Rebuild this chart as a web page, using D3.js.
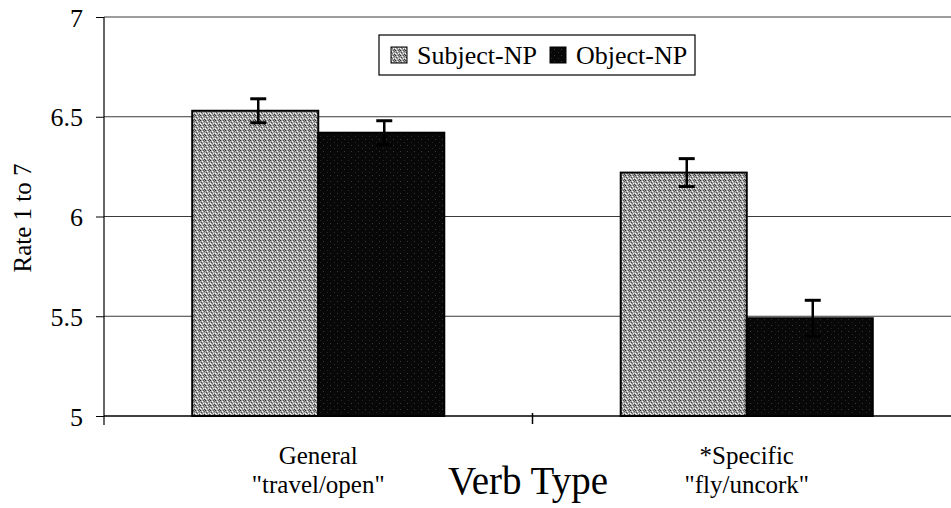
<!DOCTYPE html>
<html>
<head>
<meta charset="utf-8">
<script src="https://cdn.jsdelivr.net/npm/d3@7"></script>
<style>
  body { margin: 0; background: #fff; }
  svg text { font-family: "Liberation Serif", "Times New Roman", serif; fill: #000; }
</style>
</head>
<body>
<div id="chart"></div>
<script>
// data
var categories = ['General|"travel/open"', '*Specific|"fly/uncork"'];
var series = ["Subject-NP", "Object-NP"];
var subjectVals = [6.53, 6.22];
var objectVals = [6.42, 5.49];
var subjectErr = [0.06, 0.07];
var objectErr = [0.06, 0.09];
var yTicks = [5, 5.5, 6, 6.5, 7];

var W = 951, H = 508;
var plotLeft = 104, plotTop = 17, plotBottom = 416;
var SERIF = "'Liberation Serif', 'Times New Roman', serif";

var svg = d3.select("#chart").append("svg")
    .attr("width", W)
    .attr("height", H);

// fill textures (scanned halftone look)
var defs = svg.append("defs");
var pLight = defs.append("pattern")
    .attr("id", "subj")
    .attr("patternUnits", "userSpaceOnUse")
    .attr("width", 5).attr("height", 5);
pLight.append("rect").attr("width", 5).attr("height", 5).attr("fill", "#a2a2a2");
[[0,0,"#303030"],[2,1,"#fff"],[1,2,"#4a4a4a"],[3,3,"#f0f0f0"],[4,1,"#666"],[1,4,"#e0e0e0"],
 [3,0,"#555"],[0,3,"#fff"],[4,4,"#3c3c3c"],[2,3,"#777"]].forEach(function(p){
  pLight.append("rect").attr("x", p[0]).attr("y", p[1]).attr("width", 1).attr("height", 1).attr("fill", p[2]);
});
var pDark = defs.append("pattern")
    .attr("id", "obj")
    .attr("patternUnits", "userSpaceOnUse")
    .attr("width", 7).attr("height", 6);
pDark.append("rect").attr("width", 7).attr("height", 6).attr("fill", "#080808");
[[1,1,"#3a3a3a"],[5,4,"#262626"]].forEach(function(p){
  pDark.append("rect").attr("x", p[0]).attr("y", p[1]).attr("width", 1).attr("height", 1).attr("fill", p[2]);
});

var y = d3.scaleLinear().domain([5, 7]).range([plotBottom, plotTop]);
var x0 = d3.scaleBand().domain(categories).range([plotLeft, 961]).padding(0);
var x1 = d3.scaleBand().domain(series).range([0, x0.bandwidth()])
    .paddingInner(0).paddingOuter(0.7);

// gridlines
svg.append("g").selectAll("line")
  .data(yTicks.slice(1))
  .enter().append("line")
    .attr("x1", plotLeft).attr("x2", W)
    .attr("y1", function(d){ return y(d); })
    .attr("y2", function(d){ return y(d); })
    .attr("stroke", "#3a3a3a")
    .attr("stroke-width", 1);

// bars
var rows = categories.map(function(c, i){
  return [
    {cat: c, s: "Subject-NP", v: subjectVals[i], e: subjectErr[i]},
    {cat: c, s: "Object-NP", v: objectVals[i], e: objectErr[i]}
  ];
});
var allBars = [].concat.apply([], rows);

svg.append("g").selectAll("rect")
  .data(allBars)
  .enter().append("rect")
    .attr("x", function(d){ return x0(d.cat) + x1(d.s); })
    .attr("y", function(d){ return y(d.v); })
    .attr("width", x1.bandwidth())
    .attr("height", function(d){ return y(5) - y(d.v); })
    .attr("fill", function(d){ return d.s == "Subject-NP" ? "url(#subj)" : "url(#obj)"; })
    .attr("stroke", "#000")
    .attr("stroke-width", 2);

// error bars
var eb = svg.append("g").selectAll("g")
  .data(allBars)
  .enter().append("g")
    .attr("transform", function(d){ return "translate(" + (x0(d.cat) + x1(d.s) + x1.bandwidth()/2 + 3) + ",0)"; });
eb.append("line")
    .attr("y1", function(d){ return y(d.v + d.e); })
    .attr("y2", function(d){ return y(d.v - d.e); })
    .attr("stroke", "#000").attr("stroke-width", 2.5);
eb.selectAll(".cap")
  .data(function(d){ return [d.v + d.e, d.v - d.e]; })
  .enter().append("line")
    .attr("class", "cap")
    .attr("x1", -8).attr("x2", 8)
    .attr("y1", function(d){ return y(d); })
    .attr("y2", function(d){ return y(d); })
    .attr("stroke", "#000").attr("stroke-width", 3);

// y axis
var yAxis = d3.axisLeft(y).tickValues(yTicks).tickSize(8).tickPadding(13)
    .tickFormat(d3.format("~g"));
var ya = svg.append("g").attr("transform", "translate(" + plotLeft + ",0)").call(yAxis);
ya.attr("font-family", null).attr("font-size", null);
ya.select(".domain").remove();
ya.selectAll("line").attr("stroke", "#000");
ya.selectAll("text").style("font-size", "26px").style("font-family", SERIF).attr("dy", "0.35em");
svg.append("line")
    .attr("x1", plotLeft).attr("x2", plotLeft)
    .attr("y1", plotTop).attr("y2", plotBottom + 9)
    .attr("stroke", "#000").attr("stroke-width", 1.2);

// x axis line + category divider
svg.append("line")
    .attr("x1", plotLeft).attr("x2", W)
    .attr("y1", plotBottom).attr("y2", plotBottom)
    .attr("stroke", "#000").attr("stroke-width", 1.5);
svg.append("line")
    .attr("x1", x0(categories[1])).attr("x2", x0(categories[1]))
    .attr("y1", plotBottom - 3).attr("y2", plotBottom + 8)
    .attr("stroke", "#000").attr("stroke-width", 1.5);

// category labels
var catLabels = svg.append("g").selectAll("text")
  .data(categories)
  .enter().append("text")
    .attr("text-anchor", "middle")
    .style("font-family", SERIF)
    .style("font-size", "25px");
catLabels.selectAll("tspan")
  .data(function(d){ return d.split("|").map(function(t){ return {t: t, c: d}; }); })
  .enter().append("tspan")
    .attr("x", function(d){ return x0(d.c) + x0.bandwidth()/2; })
    .attr("y", function(d, i){ return 464 + i * 29; })
    .text(function(d){ return d.t; });

svg.append("text")
    .attr("x", 528).attr("y", 494)
    .attr("text-anchor", "middle")
    .style("font-family", SERIF)
    .style("font-size", "39px")
    .text("Verb Type");

svg.append("text")
    .attr("transform", "translate(31,218) rotate(-90)")
    .attr("text-anchor", "middle")
    .style("font-family", SERIF)
    .style("font-size", "25px")
    .text("Rate 1 to 7");

// legend
var lg = svg.append("g");
lg.append("rect")
    .attr("x", 379).attr("y", 35)
    .attr("width", 316).attr("height", 40)
    .attr("fill", "#fff").attr("stroke", "#000").attr("stroke-width", 1.2);
var legX = [391, 550];
series.forEach(function(s, i){
  lg.append("rect")
    .attr("x", legX[i]).attr("y", 47)
    .attr("width", 16).attr("height", 16)
    .attr("fill", i == 0 ? "url(#subj)" : "url(#obj)")
    .attr("stroke", "#000");
  lg.append("text")
    .attr("x", legX[i] + 26).attr("y", 64)
    .style("font-family", SERIF)
    .style("font-size", "26px")
    .text(s);
});
</script>
</body>
</html>
